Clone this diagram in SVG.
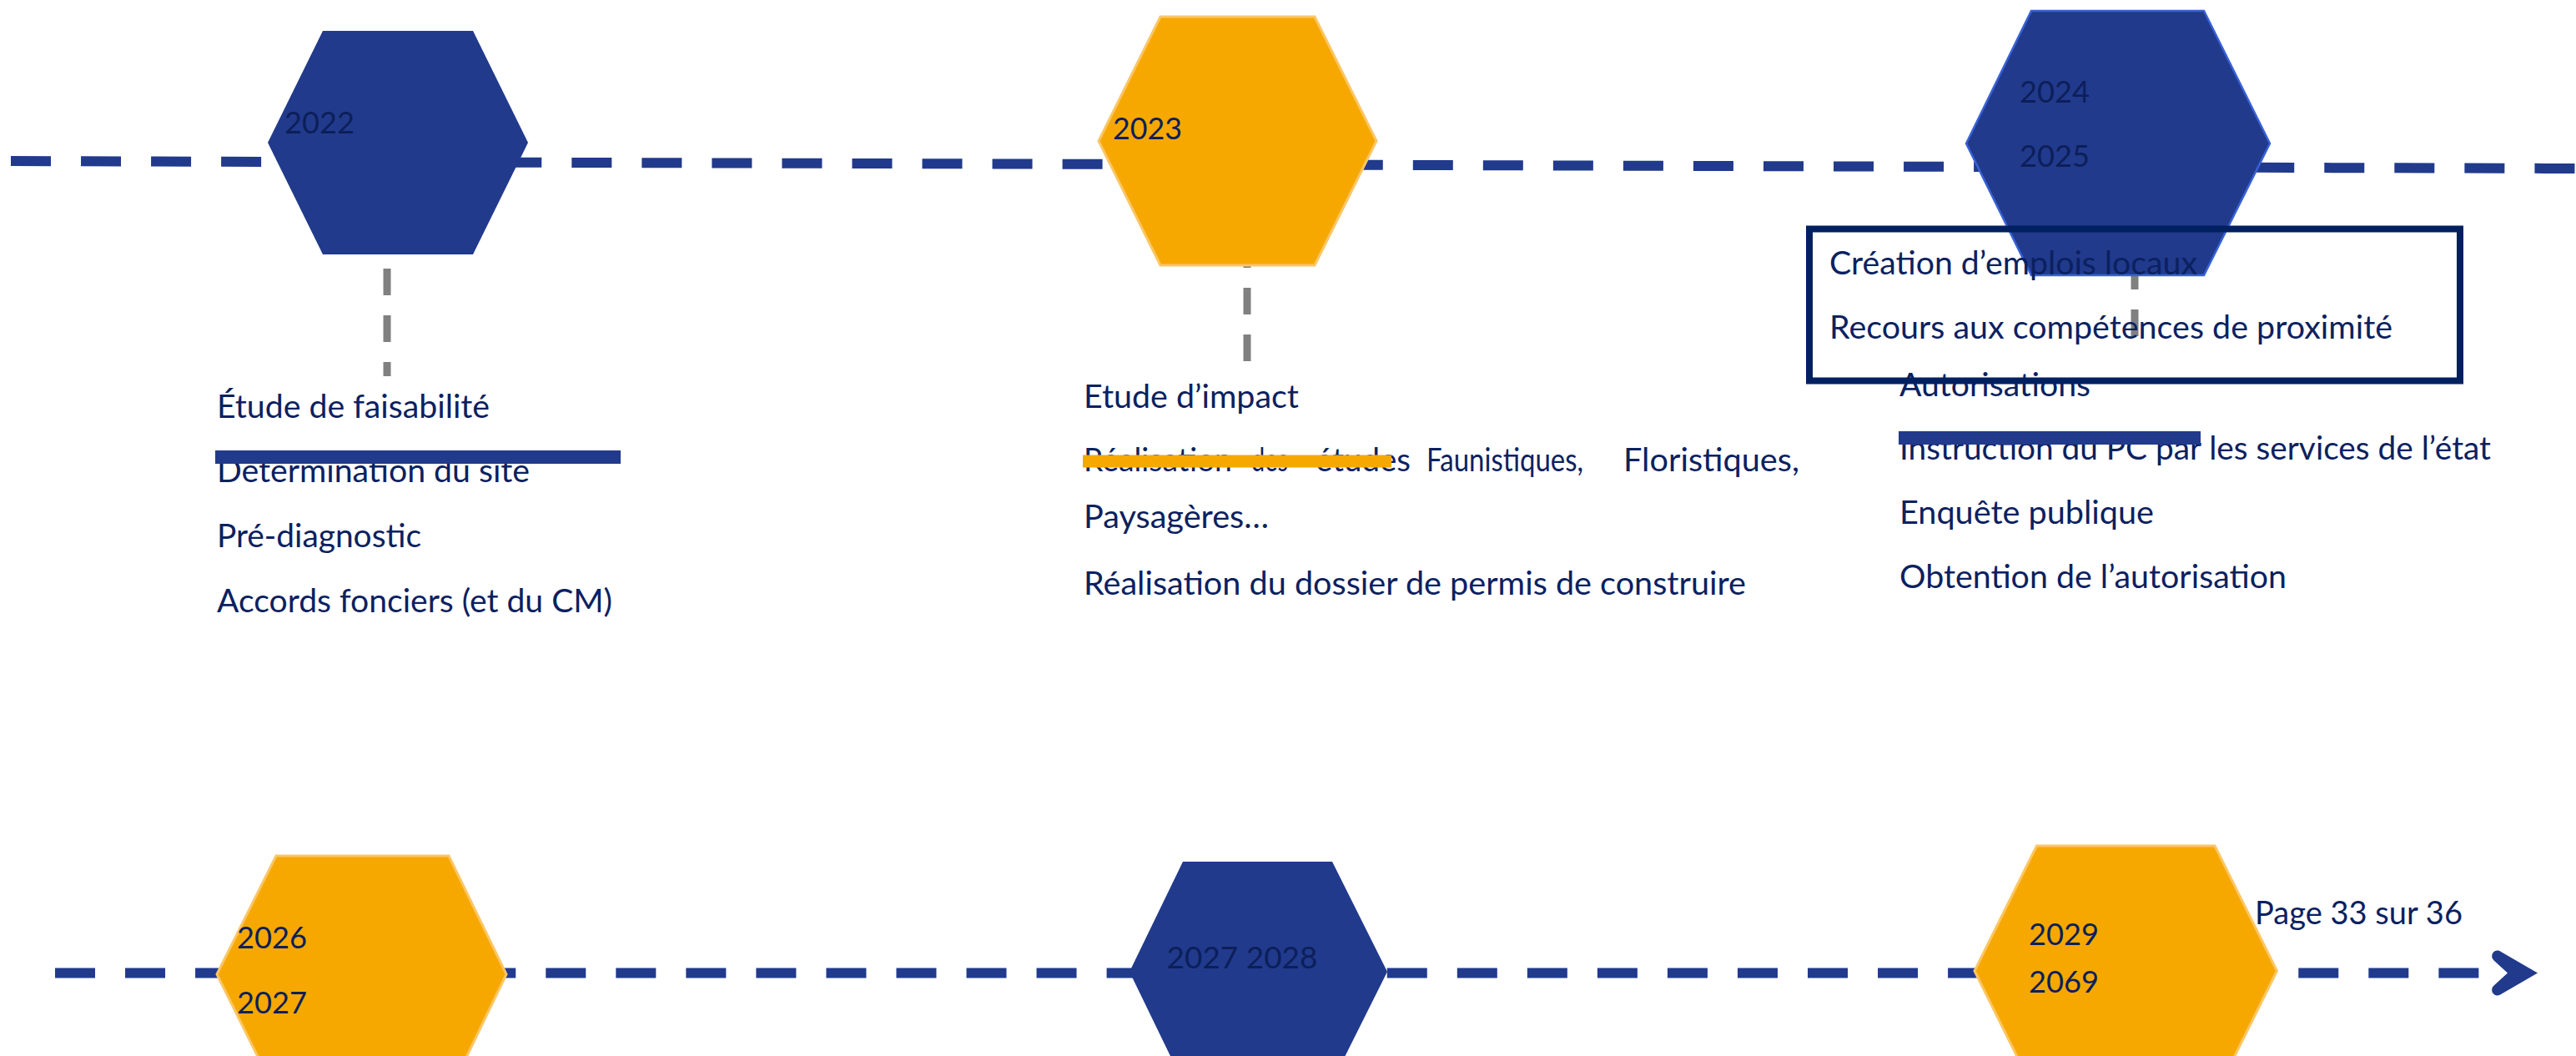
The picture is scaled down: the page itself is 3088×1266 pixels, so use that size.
<svg xmlns="http://www.w3.org/2000/svg" width="3088" height="1266" viewBox="0 0 3088 1266">
  <defs>
    <style>
      .txt { font-family: Lato, "Liberation Sans", sans-serif; font-size: 38px; fill: #0b2160; }
      .yr { font-family: Lato, "Liberation Sans", sans-serif; font-size: 37px; fill: #0c1f5a; }
      .timeline { fill: none; stroke: #213a8c; stroke-width: 12; stroke-dasharray: 48 36.04; }
      .stem { fill: none; stroke: #808080; stroke-width: 9; stroke-dasharray: 32 24; }
      .hex-blue { fill: #213a8c; }
      .hex-orange { fill: #f6a800; stroke: #fcc665; stroke-width: 3; }
      .bar-blue { fill: #213a8c; }
      .bar-orange { fill: #f6a800; }
    </style>
    <marker id="chevron" markerUnits="userSpaceOnUse" markerWidth="60" markerHeight="60" refX="0" refY="30" orient="auto" overflow="visible">
      <path d="M52,30 L8,4.5 A6.5,6.5 0 0 0 -0.4,14.9 L16,30 L-0.4,45.1 A6.5,6.5 0 0 0 8,55.5 Z" fill="#213a8c"/>
    </marker>
  </defs>

  <rect width="3088" height="1266" fill="#ffffff"/>

  <!-- timelines and milestone stems -->
  <g id="connectors">
    <line class="timeline" x1="13" y1="193" x2="3088" y2="202"/>
    <line class="timeline" x1="66" y1="1166.5" x2="2990" y2="1166.5" marker-end="url(#chevron)"/>
    <line class="stem" x1="464" y1="322" x2="464" y2="451"/>
    <line class="stem" x1="1495" y1="289" x2="1495" y2="433"/>
    <line class="stem" x1="2559" y1="315" x2="2559" y2="403"/>
  </g>

  <!-- year milestones -->
  <g id="node-2022">
    <polygon class="hex-blue" points="387,37 567,37 633,171 567,305 387,305 321,171"/>
    <text class="yr" x="341" y="160" textLength="84" lengthAdjust="spacingAndGlyphs">2022</text>
  </g>
  <g id="node-2023">
    <polygon class="hex-orange" points="1391,20 1576,20 1650,169 1576,318 1391,318 1317,169"/>
    <text class="yr" x="1334" y="167" textLength="83" lengthAdjust="spacingAndGlyphs">2023</text>
  </g>
  <g id="node-2024-2025">
    <polygon class="hex-blue" stroke="#3862d6" stroke-width="2.5" points="2435,13 2642,13 2721,172 2642,330 2435,330 2357,172"/>
    <text class="yr" x="2421" y="123" textLength="84" lengthAdjust="spacingAndGlyphs">2024</text>
    <text class="yr" x="2421" y="200" textLength="84" lengthAdjust="spacingAndGlyphs">2025</text>
  </g>
  <g id="node-2026-2027">
    <polygon class="hex-orange" points="331,1026 538,1026 607,1168 538,1311 331,1311 260,1168"/>
    <text class="yr" x="284" y="1137" textLength="84" lengthAdjust="spacingAndGlyphs">2026</text>
    <text class="yr" x="284" y="1215" textLength="84" lengthAdjust="spacingAndGlyphs">2027</text>
  </g>
  <g id="node-2027-2028">
    <polygon class="hex-blue" points="1418,1033 1597,1033 1663,1165 1597,1297 1418,1297 1354,1165"/>
    <text class="yr" x="1398.5" y="1161" textLength="181" lengthAdjust="spacingAndGlyphs">2027 2028</text>
  </g>
  <g id="node-2029-2069">
    <polygon class="hex-orange" points="2441.5,1014 2655,1014 2729.5,1164 2655,1314 2441.5,1314 2367,1164"/>
    <text class="yr" x="2432" y="1133" textLength="84" lengthAdjust="spacingAndGlyphs">2029</text>
    <text class="yr" x="2432" y="1190" textLength="84" lengthAdjust="spacingAndGlyphs">2069</text>
  </g>

  <!-- milestone details -->
  <g id="details-2022">
    <text class="txt" x="260" y="501" textLength="327" lengthAdjust="spacingAndGlyphs">Étude de faisabilité</text>
    <text class="txt" x="260" y="578" textLength="375" lengthAdjust="spacingAndGlyphs">Détermination du site</text>
    <text class="txt" x="260" y="656" textLength="245" lengthAdjust="spacingAndGlyphs">Pré-diagnostic</text>
    <text class="txt" x="260" y="734" textLength="474" lengthAdjust="spacingAndGlyphs">Accords fonciers (et du CM)</text>
    <rect class="bar-blue" x="258" y="540" width="486" height="16"/>
  </g>

  <g id="details-2023">
    <text class="txt" x="1299" y="489" textLength="258" lengthAdjust="spacingAndGlyphs">Etude d’impact</text>
    <!-- justified line, one word per run -->
    <text class="txt" x="1299" y="565" textLength="178" lengthAdjust="spacingAndGlyphs">Réalisation</text>
    <text class="txt" x="1500" y="565" textLength="44" lengthAdjust="spacingAndGlyphs">des</text>
    <text class="txt" x="1577" y="565" textLength="114" lengthAdjust="spacingAndGlyphs">études</text>
    <text class="txt" x="1710" y="565" textLength="188" lengthAdjust="spacingAndGlyphs">Faunistiques,</text>
    <text class="txt" x="1946" y="565" textLength="211" lengthAdjust="spacingAndGlyphs">Floristiques,</text>
    <text class="txt" x="1299" y="633" textLength="222" lengthAdjust="spacingAndGlyphs">Paysagères…</text>
    <text class="txt" x="1299" y="713" textLength="794" lengthAdjust="spacingAndGlyphs">Réalisation du dossier de permis de construire</text>
    <rect class="bar-orange" x="1298" y="545.5" width="370" height="15"/>
  </g>

  <g id="details-2024-2025">
    <text class="txt" x="2277" y="475" textLength="229" lengthAdjust="spacingAndGlyphs">Autorisations</text>
    <text class="txt" x="2277" y="551" textLength="709" lengthAdjust="spacingAndGlyphs">Instruction du PC par les services de l’état</text>
    <text class="txt" x="2277" y="628" textLength="305" lengthAdjust="spacingAndGlyphs">Enquête publique</text>
    <text class="txt" x="2277" y="705" textLength="464" lengthAdjust="spacingAndGlyphs">Obtention de l’autorisation</text>
    <rect class="bar-blue" x="2276" y="517" width="362" height="16"/>
  </g>

  <g id="local-benefits">
    <text class="txt" x="2193" y="329" textLength="441" lengthAdjust="spacingAndGlyphs">Création d’emplois locaux</text>
    <text class="txt" x="2193" y="406" textLength="675" lengthAdjust="spacingAndGlyphs">Recours aux compétences de proximité</text>
    <rect x="2169" y="274.5" width="780" height="182" fill="none" stroke="#002060" stroke-width="8"/>
  </g>

  <g id="page-number">
    <text class="txt" x="2703" y="1108" textLength="249" lengthAdjust="spacingAndGlyphs">Page 33 sur 36</text>
  </g>
</svg>
